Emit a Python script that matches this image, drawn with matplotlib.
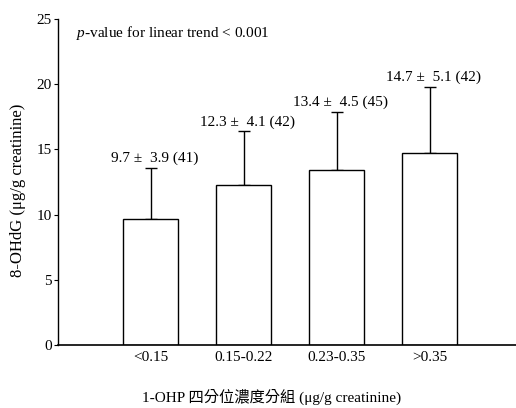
import matplotlib
matplotlib.use("Agg")
import matplotlib.pyplot as plt
import numpy as np

categories = ["<0.15", "0.15-0.22", "0.23-0.35", ">0.35"]
means = [9.7, 12.3, 13.4, 14.7]
sds = [3.9, 4.1, 4.5, 5.1]
ns = [41, 42, 45, 42]
yticks = [0, 5, 10, 15, 20, 25]

plt.rcParams['font.family'] = ['Liberation Serif', 'Noto Sans CJK TC']
plt.rcParams['mathtext.fontset'] = 'custom'
plt.rcParams['mathtext.it'] = 'Liberation Serif:italic'
plt.rcParams['mathtext.rm'] = 'Liberation Serif'

fig = plt.figure(figsize=(5.16, 4.08), dpi=100)
ax = fig.add_axes([0.1124, 0.1544, 0.8876, 0.799])
x = np.arange(len(categories))
ax.bar(x, means, width=0.59, color='white', edgecolor='black', linewidth=1.0, zorder=2)
ax.errorbar(x, means, yerr=[np.zeros(len(sds)), sds], fmt='none', ecolor='black',
            elinewidth=1.0, capsize=4, capthick=1.0, zorder=1)
for xi, m, s, n in zip(x, means, sds, ns):
    ax.text(xi + 0.045, m + s + 0.2, f"{m} \u00b1  {s} ({n})", ha='center', va='bottom',
            fontsize=11)

ax.set_xlim(-0.995, 3.93)
ax.set_ylim(0, 25)
ax.set_yticks(yticks)
ax.set_xticks(x)
ax.set_xticklabels(categories, fontsize=11)
ax.tick_params(axis='x', length=0, pad=4)
ax.tick_params(axis='y', length=3, direction='out', labelsize=11, pad=1.5)
for sp in ['top', 'right']:
    ax.spines[sp].set_visible(False)
ax.spines['left'].set_linewidth(1.0)
ax.spines['bottom'].set_linewidth(1.2)
fig.text(0.035, 0.534, "8-OHdG (\u03bcg/g creatinine)", fontsize=12, rotation=90,
         ha='center', va='center')
fig.text(0.527, 0.028, "1-OHP 四分位濃度分組 (\u03bcg/g creatinine)", fontsize=11,
         ha='center', va='center')
ax.text(0.04, 0.985, r"$\it{p}$-value for linear trend < 0.001", transform=ax.transAxes,
        ha='left', va='top', fontsize=11)
fig.savefig("out.png", dpi=100)
